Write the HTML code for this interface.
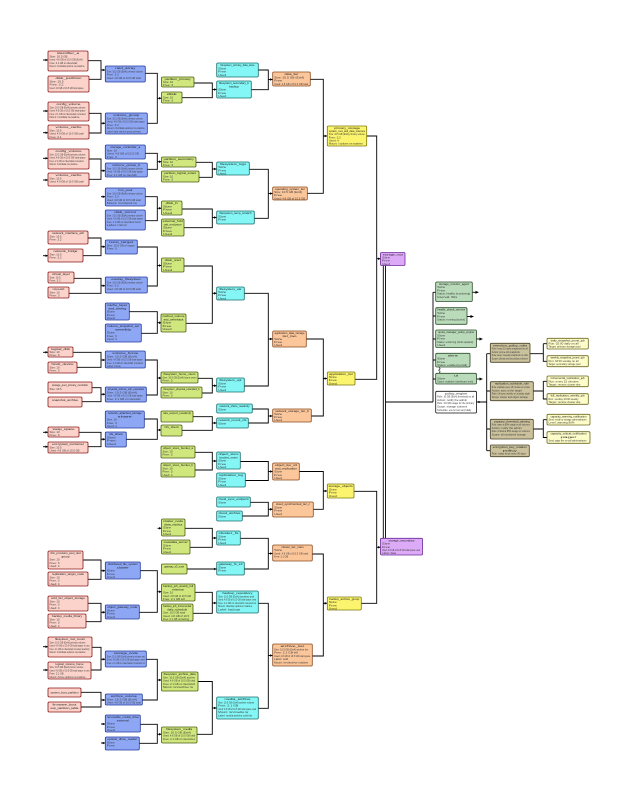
<!DOCTYPE html>
<html><head><meta charset="utf-8">
<style>
html,body{margin:0;padding:0;background:#fff}
svg{display:block}
rect{stroke-width:.8px;rx:1.2px}
.pk{fill:#fcd3ca;stroke:#8b1a1a}
.bl{fill:#8ea7f5;stroke:#22399c}
.gr{fill:#cfe77c;stroke:#4d5d12}
.cy{fill:#84f6f6;stroke:#17706f}
.or{fill:#fcc69b;stroke:#8a4b1e}
.ye{fill:#fbf46c;stroke:#7d7a10}
.pu{fill:#ddaaf8;stroke:#6b2a9a}
.rg{fill:#b9dbb9;stroke:#2c4f2c}
.tn{fill:#cbc29d;stroke:#4a4226}
.ly{fill:#fefdca;stroke:#6b6a20}
.wh{fill:#fff;stroke:#111}
.t{font-family:"Liberation Sans",sans-serif;font-size:2.8px;fill:#1a1a1a;text-anchor:middle}
.d{font-family:"Liberation Sans",sans-serif;font-size:2.3px;fill:#3a3a3a}
.c{fill:none;stroke:#000;stroke-width:.9}
</style></head><body>
<svg width="639" height="802" viewBox="0 0 639 802" xmlns="http://www.w3.org/2000/svg">
<defs>
<marker id="a" markerUnits="userSpaceOnUse" markerWidth="3" markerHeight="3" refX="2.6" refY="1.3" orient="auto"><path d="M0,0L2.6,1.3L0,2.6z" fill="#000"/></marker>
<marker id="b" markerUnits="userSpaceOnUse" markerWidth="4" markerHeight="4" refX="3.2" refY="1.7" orient="auto"><path d="M0,0L3.2,1.7L0,3.4z" fill="#000"/></marker>
</defs>
<rect x="0" y="0" width="639" height="802" style="fill:#fff;stroke:none"/>

<path class="c" d="M88 60.7H101V79.3H89M89 113.3H101V133H89M89 159H101V179.3H89M88 238H101V255.7H83M74 278.3H101V293.3H69M73 352.3H101V367.3H77M92 387.7H101V401.7H82M79 432.3H101V446.7H88M83 560H101V579.3H88M88 603.3H101V621.7H86M92 647.3H101V670H91M81 692.3H101V707H81"/>
<path class="c" d="M145 73.3H157.3V123.3H147M145 153.3H157.3V169.3H147M145 196.7H157.3V220.7H145M137 247H157.3V286H147M129 311.7H157.3V333.3H141M145 360H157.3V395H146M144 419H157.3V439.3H126M140 570.7H157.3V612.3H139M146 659.3H157.3V700H142M140 724.3H157.3V743.3H139"/>
<path class="c" d="M194 83H212.3V97.7H182M196 162.3H212.3V177.3H199M182 209H212.3V227.7H184M184 266H212.3V323.3H186M198 378.3H212.3V393H202M193 416.7H212.3V430.3H182M195 452.3H212.3V470H195M185 528.3H212.3V547.3H190M195 592.3H212.3V613.3H193M198 681.5H212.3V734.3H197"/>
<path class="c" d="M258.3 70H268.3V89.7H251.3M249.3 169.3H268.3V218.3H254.3M244.3 293.3H268.3V386H244.3M252.3 409H268.3V423H248.3M240.3 461.5H268.3V480.5H245.3M250.3 502.3H268.3V516H242.3M240.3 538.3H268.3V569H244.3M258.3 603.3H268.3V708.3H258.3"/>
<path class="c" d="M310.3 79.3H323.3V193.3H307.3M306.3 339H323.3V416H311.3M299.3 471.5H323.3V509.3H313.3M312.3 554H323.3V656H312.3"/>
<path class="c" d="M366.7 136H376.7V379.3H355M354 491.3H376.7V603.3H361.3"/>
<path class="c" d="M383.3 265.5V538.3M385.5 265.5V538.3M385.5 402H433M433 292.3V402M433 292.3H435.7M433 316H435.7M433 339H435.7M433 360H435.7M433 379H435.7"/>
<path class="c" d="M476.5 402H486.7M486.7 353.7V450.7M486.7 353.7H490.3M486.7 391H490.3M486.7 429H490.3M486.7 450.7H490.3"/>
<path class="c" d="M530 353.7H543.3M543.3 343.7V361.3H547M543.3 343.7H547M533.3 391H543.3M543.3 381.3V399H547M543.3 381.3H547M533.3 429H543.3M543.3 419.7V437.5H547M543.3 419.7H547"/>
<path class="c" style="stroke-width:.6" d="M439 367.3l1.2 1.5l-1.5 1.5l1.5 1.5l-1 1.5"/>

<g stroke="#000" stroke-width=".9">
<line x1="101" y1="70" x2="105.3" y2="70" marker-end="url(#a)"/>
<line x1="101" y1="123.3" x2="105.3" y2="123.3" marker-end="url(#a)"/>
<line x1="101" y1="170.7" x2="105.3" y2="170.7" marker-end="url(#a)"/>
<line x1="101" y1="246.7" x2="105.3" y2="246.7" marker-end="url(#a)"/>
<line x1="101" y1="285.7" x2="105.3" y2="285.7" marker-end="url(#a)"/>
<line x1="101" y1="360" x2="105.3" y2="360" marker-end="url(#a)"/>
<line x1="101" y1="394.3" x2="105.3" y2="394.3" marker-end="url(#a)"/>
<line x1="101" y1="439.3" x2="105.3" y2="439.3" marker-end="url(#a)"/>
<line x1="101" y1="570.7" x2="105.3" y2="570.7" marker-end="url(#a)"/>
<line x1="101" y1="612.3" x2="105.3" y2="612.3" marker-end="url(#a)"/>
<line x1="101" y1="659.3" x2="105.3" y2="659.3" marker-end="url(#a)"/>
<line x1="101" y1="700" x2="105.3" y2="700" marker-end="url(#a)"/>

<line x1="157.3" y1="98.3" x2="161.5" y2="98.3" marker-end="url(#a)"/>
<line x1="157.3" y1="161.7" x2="161.5" y2="161.7" marker-end="url(#a)"/>
<line x1="157.3" y1="208.3" x2="161.5" y2="208.3" marker-end="url(#a)"/>
<line x1="157.3" y1="265.5" x2="161.5" y2="265.5" marker-end="url(#a)"/>
<line x1="157.3" y1="322.7" x2="161.5" y2="322.7" marker-end="url(#a)"/>
<line x1="157.3" y1="378" x2="161.5" y2="378" marker-end="url(#a)"/>
<line x1="157.3" y1="430" x2="161.5" y2="430" marker-end="url(#a)"/>
<line x1="157.3" y1="591.7" x2="161.5" y2="591.7" marker-end="url(#a)"/>
<line x1="157.3" y1="680" x2="161.5" y2="680" marker-end="url(#a)"/>
<line x1="157.3" y1="734.3" x2="161.5" y2="734.3" marker-end="url(#a)"/>

<line x1="212.3" y1="89.5" x2="216.7" y2="89.5" marker-end="url(#a)"/>
<line x1="212.3" y1="169" x2="216.7" y2="169" marker-end="url(#a)"/>
<line x1="212.3" y1="217.5" x2="216.7" y2="217.5" marker-end="url(#a)"/>
<line x1="212.3" y1="293.3" x2="216.7" y2="293.3" marker-end="url(#a)"/>
<line x1="212.3" y1="385.7" x2="216.7" y2="385.7" marker-end="url(#a)"/>
<line x1="212.3" y1="423" x2="216.7" y2="423" marker-end="url(#a)"/>
<line x1="212.3" y1="461" x2="216.7" y2="461" marker-end="url(#a)"/>
<line x1="212.3" y1="538" x2="216.7" y2="538" marker-end="url(#a)"/>
<line x1="187" y1="569" x2="216.7" y2="569" marker-end="url(#a)"/>
<line x1="212.3" y1="603" x2="216.7" y2="603" marker-end="url(#a)"/>
<line x1="212.3" y1="708" x2="216.7" y2="708" marker-end="url(#a)"/>

<line x1="268.3" y1="79.5" x2="272.7" y2="79.5" marker-end="url(#a)"/>
<line x1="268.3" y1="193.5" x2="272.7" y2="193.5" marker-end="url(#a)"/>
<line x1="268.3" y1="339" x2="272.7" y2="339" marker-end="url(#a)"/>
<line x1="268.3" y1="416" x2="272.7" y2="416" marker-end="url(#a)"/>
<line x1="268.3" y1="471.5" x2="272.7" y2="471.5" marker-end="url(#a)"/>
<line x1="268.3" y1="509.3" x2="272.7" y2="509.3" marker-end="url(#a)"/>
<line x1="268.3" y1="553.5" x2="272.7" y2="553.5" marker-end="url(#a)"/>
<line x1="268.3" y1="655.5" x2="272.7" y2="655.5" marker-end="url(#a)"/>

<line x1="323.3" y1="136" x2="327.3" y2="136" marker-end="url(#a)"/>
<line x1="323.3" y1="378.5" x2="327.3" y2="378.5" marker-end="url(#a)"/>
<line x1="323.3" y1="491" x2="327.3" y2="491" marker-end="url(#a)"/>
<line x1="323.3" y1="603.3" x2="327.3" y2="603.3" marker-end="url(#a)"/>

<line x1="376.7" y1="258.7" x2="380.5" y2="258.7" marker-end="url(#a)"/>
<line x1="376.7" y1="547.3" x2="380.5" y2="547.3" marker-end="url(#a)"/>

<line x1="43" y1="60" x2="48" y2="60" marker-end="url(#a)"/>
<line x1="43" y1="111" x2="48" y2="111" marker-end="url(#a)"/>
<line x1="43" y1="132.7" x2="48" y2="132.7" marker-end="url(#a)"/>
<line x1="43" y1="158.3" x2="48" y2="158.3" marker-end="url(#a)"/>
<line x1="43" y1="180" x2="48" y2="180" marker-end="url(#a)"/>
<line x1="43" y1="255.7" x2="48" y2="255.7" marker-end="url(#a)"/>
<line x1="43" y1="352.3" x2="48" y2="352.3" marker-end="url(#a)"/>
<line x1="43" y1="432.3" x2="48" y2="432.3" marker-end="url(#a)"/>
<line x1="43" y1="446.7" x2="48" y2="446.7" marker-end="url(#a)"/>
<line x1="43" y1="646.7" x2="48" y2="646.7" marker-end="url(#a)"/>
<line x1="43" y1="670" x2="48" y2="670" marker-end="url(#a)"/>
<line x1="101" y1="196.7" x2="105.3" y2="196.7" marker-end="url(#a)"/>
<line x1="101" y1="724" x2="105.3" y2="724" marker-end="url(#a)"/>
<line x1="101" y1="743" x2="105.3" y2="743" marker-end="url(#a)"/>
<line x1="157.5" y1="528.3" x2="161.5" y2="528.3" marker-end="url(#a)"/>

<line x1="472.3" y1="292.3" x2="478.5" y2="292.3" marker-end="url(#b)"/>
<line x1="467" y1="316.5" x2="473.5" y2="316.5" marker-end="url(#b)"/>
<line x1="476.5" y1="339" x2="482.5" y2="339" marker-end="url(#b)"/>
<line x1="476.5" y1="379" x2="482.5" y2="379" marker-end="url(#b)"/>
<line x1="477" y1="402" x2="481" y2="402" marker-end="url(#a)"/>
</g>

<!-- PINK -->
<rect class="pk" x="48" y="51" width="40" height="20"/>
<text class="t" x="68" y="54" textLength="22" lengthAdjust="spacingAndGlyphs">identifier_a</text>
<text class="d" x="49.5" y="57.3" textLength="18" lengthAdjust="spacingAndGlyphs">Size: 10.5 GB</text>
<text class="d" x="49.5" y="60.6" textLength="33" lengthAdjust="spacingAndGlyphs">Used: 4.8 GB of 10.5 GB (Ext4)</text>
<text class="d" x="49.5" y="63.9" textLength="28" lengthAdjust="spacingAndGlyphs">Free: 2.1 GB on /dev/sda1</text>
<text class="d" x="49.5" y="67.2" textLength="35" lengthAdjust="spacingAndGlyphs">Mount: /mnt/data options rw,noatime</text>

<rect class="pk" x="48" y="76" width="41" height="16"/>
<text class="t" x="68.5" y="79" textLength="26" lengthAdjust="spacingAndGlyphs">disk_partition</text>
<text class="d" x="49.5" y="82.3" textLength="14" lengthAdjust="spacingAndGlyphs">Size: 10.5</text>
<text class="d" x="49.5" y="85.6" textLength="14" lengthAdjust="spacingAndGlyphs">Free: 3.2</text>
<text class="d" x="49.5" y="88.9" textLength="34" lengthAdjust="spacingAndGlyphs">Used: 4.8 GB of 10.5 GB total space</text>

<rect class="pk" x="48" y="102" width="41" height="19"/>
<text class="t" x="68.5" y="105" textLength="24" lengthAdjust="spacingAndGlyphs">config_volume</text>
<text class="d" x="49.5" y="108.3" textLength="36" lengthAdjust="spacingAndGlyphs">Size: 10.5 GB (Ext4) primary volume</text>
<text class="d" x="49.5" y="111.6" textLength="36" lengthAdjust="spacingAndGlyphs">Used: 4.8 GB of 10.5 GB total space</text>
<text class="d" x="49.5" y="114.9" textLength="36" lengthAdjust="spacingAndGlyphs">Free: 2.1 GB on /dev/sda1 mounted</text>
<text class="d" x="49.5" y="118.2" textLength="30" lengthAdjust="spacingAndGlyphs">Mount: /mnt/data rw,noatime</text>

<rect class="pk" x="48" y="125" width="41" height="14"/>
<text class="t" x="68.5" y="128" textLength="26" lengthAdjust="spacingAndGlyphs">volume_cache</text>
<text class="d" x="49.5" y="131.3" textLength="12" lengthAdjust="spacingAndGlyphs">Size: 10.5</text>
<text class="d" x="49.5" y="134.6" textLength="34" lengthAdjust="spacingAndGlyphs">Used: 4.8 GB of 10.5 GB total</text>
<text class="d" x="49.5" y="137.9" textLength="12" lengthAdjust="spacingAndGlyphs">Free: 2.1</text>

<rect class="pk" x="48" y="149" width="41" height="20"/>
<text class="t" x="68.5" y="152" textLength="26" lengthAdjust="spacingAndGlyphs">config_volume</text>
<text class="d" x="49.5" y="155.3" textLength="36" lengthAdjust="spacingAndGlyphs">Size: 10.5 GB (Ext4) primary volume</text>
<text class="d" x="49.5" y="158.6" textLength="36" lengthAdjust="spacingAndGlyphs">Used: 4.8 GB of 10.5 GB total space</text>
<text class="d" x="49.5" y="161.9" textLength="34" lengthAdjust="spacingAndGlyphs">Free: 2.1 GB on /dev/sda1 mounted</text>
<text class="d" x="49.5" y="165.2" textLength="28" lengthAdjust="spacingAndGlyphs">Mount: /mnt/data rw,noatime</text>

<rect class="pk" x="48" y="173" width="41" height="13"/>
<text class="t" x="68.5" y="176" textLength="26" lengthAdjust="spacingAndGlyphs">volume_cache</text>
<text class="d" x="49.5" y="179.3" textLength="12" lengthAdjust="spacingAndGlyphs">Size: 10.5</text>
<text class="d" x="49.5" y="182.6" textLength="34" lengthAdjust="spacingAndGlyphs">Used: 4.8 GB of 10.5 GB total</text>

<rect class="pk" x="48" y="231" width="40" height="13"/>
<text class="t" x="68" y="234" textLength="32" lengthAdjust="spacingAndGlyphs">network_interface_eth</text>
<text class="d" x="49.5" y="237.3" textLength="12" lengthAdjust="spacingAndGlyphs">Size: 10.5</text>
<text class="d" x="49.5" y="240.6" textLength="12" lengthAdjust="spacingAndGlyphs">Free: 3.2</text>

<rect class="pk" x="48" y="249" width="35" height="13"/>
<text class="t" x="65.5" y="252" textLength="24" lengthAdjust="spacingAndGlyphs">network_bridge</text>
<text class="d" x="49.5" y="255.3" textLength="12" lengthAdjust="spacingAndGlyphs">Size: 10.5</text>
<text class="d" x="49.5" y="258.6" textLength="12" lengthAdjust="spacingAndGlyphs">Free: 3.2</text>

<rect class="pk" x="48" y="272" width="26" height="11"/>
<text class="t" x="61" y="275" textLength="18" lengthAdjust="spacingAndGlyphs">virtual_layer</text>
<text class="d" x="49.5" y="278.3" textLength="11" lengthAdjust="spacingAndGlyphs">Size: 10.5</text>
<text class="d" x="49.5" y="281.6" textLength="11" lengthAdjust="spacingAndGlyphs">Free: 3.2</text>

<rect class="pk" x="48" y="287" width="21" height="11"/>
<text class="t" x="58.5" y="290" textLength="12" lengthAdjust="spacingAndGlyphs">mount</text>
<text class="d" x="49.5" y="293.3" textLength="10" lengthAdjust="spacingAndGlyphs">Size: 10</text>
<text class="d" x="49.5" y="296.6" textLength="10" lengthAdjust="spacingAndGlyphs">Free: 3</text>

<rect class="pk" x="48" y="347" width="25" height="10"/>
<text class="t" x="60.5" y="350" textLength="19" lengthAdjust="spacingAndGlyphs">logical_disk</text>
<text class="d" x="49.5" y="353.2" textLength="10" lengthAdjust="spacingAndGlyphs">Size: 10</text>
<text class="d" x="49.5" y="356.2" textLength="10" lengthAdjust="spacingAndGlyphs">Free: 3</text>

<rect class="pk" x="48" y="362" width="29" height="11"/>
<text class="t" x="62.5" y="365" textLength="22" lengthAdjust="spacingAndGlyphs">block_device</text>
<text class="d" x="49.5" y="368.3" textLength="10" lengthAdjust="spacingAndGlyphs">Size: 10</text>
<text class="d" x="49.5" y="371.4" textLength="10" lengthAdjust="spacingAndGlyphs">Free: 3</text>

<rect class="pk" x="48" y="382" width="44" height="11"/>
<text class="t" x="70" y="386" textLength="36" lengthAdjust="spacingAndGlyphs">storage_pool_primary_controller</text>
<text class="d" x="49.5" y="390" textLength="12" lengthAdjust="spacingAndGlyphs">Size: 10.5</text>

<rect class="pk" x="48" y="397" width="34" height="10"/>
<text class="t" x="65" y="401" textLength="26" lengthAdjust="spacingAndGlyphs">snapshot_archive</text>

<rect class="pk" x="48" y="427" width="31" height="10"/>
<text class="t" x="63.5" y="430" textLength="22" lengthAdjust="spacingAndGlyphs">swap_space</text>
<text class="d" x="49.5" y="433.2" textLength="10" lengthAdjust="spacingAndGlyphs">Size: 10</text>
<text class="d" x="49.5" y="436.2" textLength="10" lengthAdjust="spacingAndGlyphs">Free: 3</text>

<rect class="pk" x="48" y="442" width="40" height="11"/>
<text class="t" x="68" y="445" textLength="32" lengthAdjust="spacingAndGlyphs">encrypted_container</text>
<text class="d" x="49.5" y="448.3" textLength="12" lengthAdjust="spacingAndGlyphs">Size: 10.5</text>
<text class="d" x="49.5" y="451.4" textLength="30" lengthAdjust="spacingAndGlyphs">Used: 4.8 GB of 10.5 GB</text>

<rect class="pk" x="48" y="551" width="35" height="18"/>
<text class="t" x="65.5" y="554" textLength="30" lengthAdjust="spacingAndGlyphs">thin_provision_pool_raid</text>
<text class="t" x="65.5" y="557.3" textLength="8" lengthAdjust="spacingAndGlyphs">group</text>
<text class="d" x="49.5" y="560.6" textLength="10" lengthAdjust="spacingAndGlyphs">Size: 10</text>
<text class="d" x="49.5" y="563.9" textLength="10" lengthAdjust="spacingAndGlyphs">Free: 3</text>
<text class="d" x="49.5" y="567.2" textLength="10" lengthAdjust="spacingAndGlyphs">Used: 4</text>

<rect class="pk" x="48" y="572" width="40" height="14"/>
<text class="t" x="68" y="575" textLength="32" lengthAdjust="spacingAndGlyphs">replication_target_node</text>
<text class="d" x="49.5" y="578.3" textLength="10" lengthAdjust="spacingAndGlyphs">Size: 10</text>
<text class="d" x="49.5" y="581.6" textLength="10" lengthAdjust="spacingAndGlyphs">Free: 3</text>
<text class="d" x="49.5" y="584.9" textLength="10" lengthAdjust="spacingAndGlyphs">Used: 4</text>

<rect class="pk" x="48" y="596" width="40" height="15"/>
<text class="t" x="68" y="599" textLength="34" lengthAdjust="spacingAndGlyphs">cold_tier_object_storage</text>
<text class="d" x="49.5" y="602.3" textLength="10" lengthAdjust="spacingAndGlyphs">Size: 10</text>
<text class="d" x="49.5" y="605.6" textLength="10" lengthAdjust="spacingAndGlyphs">Free: 3</text>
<text class="d" x="49.5" y="608.9" textLength="10" lengthAdjust="spacingAndGlyphs">Used: 4</text>

<rect class="pk" x="48" y="614" width="38" height="14"/>
<text class="t" x="67" y="617" textLength="30" lengthAdjust="spacingAndGlyphs">backup_media_library</text>
<text class="d" x="49.5" y="620.3" textLength="10" lengthAdjust="spacingAndGlyphs">Size: 10</text>
<text class="d" x="49.5" y="623.6" textLength="10" lengthAdjust="spacingAndGlyphs">Free: 3</text>
<text class="d" x="49.5" y="626.9" textLength="10" lengthAdjust="spacingAndGlyphs">Used: 4</text>

<rect class="pk" x="48" y="637" width="44" height="20"/>
<text class="t" x="70" y="640" textLength="30" lengthAdjust="spacingAndGlyphs">filesystem_root_mount</text>
<text class="d" x="49.5" y="643.3" textLength="36" lengthAdjust="spacingAndGlyphs">Size: 10.5 GB (Ext4) primary volume</text>
<text class="d" x="49.5" y="646.6" textLength="40" lengthAdjust="spacingAndGlyphs">Used: 4.8 GB of 10.5 GB total space in use</text>
<text class="d" x="49.5" y="649.9" textLength="40" lengthAdjust="spacingAndGlyphs">Free: 2.1 GB on /dev/sda1 mounted readonly</text>
<text class="d" x="49.5" y="653.2" textLength="36" lengthAdjust="spacingAndGlyphs">Mount: /mnt/data options rw,noatime</text>

<rect class="pk" x="48" y="662" width="43" height="17"/>
<text class="t" x="69.5" y="665" textLength="28" lengthAdjust="spacingAndGlyphs">logical_volume_home</text>
<text class="d" x="49.5" y="668.2" textLength="34" lengthAdjust="spacingAndGlyphs">Size: 10.5 GB (Ext4) home volume</text>
<text class="d" x="49.5" y="671.4" textLength="40" lengthAdjust="spacingAndGlyphs">Used: 4.8 GB of 10.5 GB total space in use</text>
<text class="d" x="49.5" y="674.6" textLength="14" lengthAdjust="spacingAndGlyphs">Free: 2.1 GB</text>
<text class="d" x="49.5" y="677.8" textLength="36" lengthAdjust="spacingAndGlyphs">Mount: /home options rw,noatime</text>

<rect class="pk" x="48" y="688" width="33" height="9"/>
<text class="t" x="64.5" y="693.6" textLength="28" lengthAdjust="spacingAndGlyphs">system_boot_partition</text>

<rect class="pk" x="48" y="702" width="33" height="10"/>
<text class="t" x="64.5" y="705.5" textLength="24" lengthAdjust="spacingAndGlyphs">firmware_boot</text>
<text class="t" x="64.5" y="709" textLength="28" lengthAdjust="spacingAndGlyphs">esp_partition_table</text>

<!-- BLUE -->
<rect class="bl" x="105.3" y="66" width="40" height="16"/>
<text class="t" x="125.3" y="69" textLength="20" lengthAdjust="spacingAndGlyphs">raid_array</text>
<text class="d" x="106.8" y="72.3" textLength="36" lengthAdjust="spacingAndGlyphs">Size: 10.5 GB (Ext4) primary volume</text>
<text class="d" x="106.8" y="75.6" textLength="12" lengthAdjust="spacingAndGlyphs">Free: 3.2</text>
<text class="d" x="106.8" y="78.9" textLength="34" lengthAdjust="spacingAndGlyphs">Used: 4.8 GB of 10.5 GB total</text>

<rect class="bl" x="105.3" y="113" width="42" height="21"/>
<text class="t" x="126.3" y="116" textLength="26" lengthAdjust="spacingAndGlyphs">volume_group</text>
<text class="d" x="106.8" y="119.3" textLength="36" lengthAdjust="spacingAndGlyphs">Size: 10.5 GB (Ext4) primary volume</text>
<text class="d" x="106.8" y="122.6" textLength="38" lengthAdjust="spacingAndGlyphs">Used: 4.8 GB of 10.5 GB total space</text>
<text class="d" x="106.8" y="125.9" textLength="12" lengthAdjust="spacingAndGlyphs">Free: 3.2</text>
<text class="d" x="106.8" y="129.2" textLength="38" lengthAdjust="spacingAndGlyphs">Mount: /mnt/data options rw,noatime</text>
<text class="d" x="106.8" y="132.5" textLength="34" lengthAdjust="spacingAndGlyphs">Label: data volume group primary</text>

<rect class="bl" x="105.3" y="145" width="40" height="14"/>
<text class="t" x="125.3" y="148" textLength="30" lengthAdjust="spacingAndGlyphs">storage_controller_a</text>
<text class="d" x="106.8" y="151.3" textLength="10" lengthAdjust="spacingAndGlyphs">Size: 10</text>
<text class="d" x="106.8" y="154.6" textLength="32" lengthAdjust="spacingAndGlyphs">Used: 4.8 GB of 10.5 GB</text>
<text class="d" x="106.8" y="157.9" textLength="10" lengthAdjust="spacingAndGlyphs">Free: 3</text>

<rect class="bl" x="105.3" y="163" width="42" height="14"/>
<text class="t" x="126.3" y="166" textLength="28" lengthAdjust="spacingAndGlyphs">volume_group_b</text>
<text class="d" x="106.8" y="169.3" textLength="36" lengthAdjust="spacingAndGlyphs">Size: 10.5 GB (Ext4) primary volume</text>
<text class="d" x="106.8" y="172.6" textLength="36" lengthAdjust="spacingAndGlyphs">Used: 4.8 GB of 10.5 GB total space</text>
<text class="d" x="106.8" y="175.9" textLength="30" lengthAdjust="spacingAndGlyphs">Free: 2.1 GB on /dev/sdb</text>

<rect class="bl" x="105.3" y="188" width="40" height="18"/>
<text class="t" x="125.3" y="191" textLength="14" lengthAdjust="spacingAndGlyphs">lvm_pool</text>
<text class="d" x="106.8" y="194.3" textLength="36" lengthAdjust="spacingAndGlyphs">Size: 10.5 GB (Ext4) primary volume</text>
<text class="d" x="106.8" y="197.6" textLength="12" lengthAdjust="spacingAndGlyphs">Free: 3.2</text>
<text class="d" x="106.8" y="200.9" textLength="34" lengthAdjust="spacingAndGlyphs">Used: 4.8 GB of 10.5 GB total</text>
<text class="d" x="106.8" y="204.2" textLength="30" lengthAdjust="spacingAndGlyphs">Mount: /mnt/pool rw</text>

<rect class="bl" x="105.3" y="210" width="40" height="20"/>
<text class="t" x="125.3" y="213" textLength="22" lengthAdjust="spacingAndGlyphs">disk_mirror</text>
<text class="d" x="106.8" y="216.3" textLength="36" lengthAdjust="spacingAndGlyphs">Size: 10.5 GB (Ext4) primary volume</text>
<text class="d" x="106.8" y="219.6" textLength="36" lengthAdjust="spacingAndGlyphs">Used: 4.8 GB of 10.5 GB total space</text>
<text class="d" x="106.8" y="222.9" textLength="34" lengthAdjust="spacingAndGlyphs">Free: 2.1 GB on /dev/sda1 mount</text>
<text class="d" x="106.8" y="226.2" textLength="20" lengthAdjust="spacingAndGlyphs">Label: mirror</text>

<rect class="bl" x="105.3" y="240" width="32" height="14"/>
<text class="t" x="121.3" y="243" textLength="24" lengthAdjust="spacingAndGlyphs">iscsi_target</text>
<text class="d" x="106.8" y="246.3" textLength="28" lengthAdjust="spacingAndGlyphs">Size: 10.5 GB of space</text>
<text class="d" x="106.8" y="249.6" textLength="10" lengthAdjust="spacingAndGlyphs">Free: 3</text>

<rect class="bl" x="105.3" y="277" width="42" height="16"/>
<text class="t" x="126.3" y="280" textLength="30" lengthAdjust="spacingAndGlyphs">overlay_filesystem</text>
<text class="d" x="106.8" y="283.3" textLength="36" lengthAdjust="spacingAndGlyphs">Size: 10.5 GB (Ext4) primary volume</text>
<text class="d" x="106.8" y="286.6" textLength="12" lengthAdjust="spacingAndGlyphs">Free: 3.2</text>
<text class="d" x="106.8" y="289.9" textLength="34" lengthAdjust="spacingAndGlyphs">Used: 4.8 GB of 10.5 GB total</text>

<rect class="bl" x="105.3" y="303" width="24" height="17"/>
<text class="t" x="117.3" y="306" textLength="20" lengthAdjust="spacingAndGlyphs">cache_layer</text>
<text class="t" x="117.3" y="309.3" textLength="18" lengthAdjust="spacingAndGlyphs">ssd_tiering</text>
<text class="d" x="106.8" y="312.6" textLength="8" lengthAdjust="spacingAndGlyphs">Size</text>
<text class="d" x="106.8" y="315.9" textLength="8" lengthAdjust="spacingAndGlyphs">Free</text>
<text class="d" x="106.8" y="319.2" textLength="8" lengthAdjust="spacingAndGlyphs">Used</text>

<rect class="bl" x="105.3" y="324" width="36" height="18"/>
<text class="t" x="123.3" y="327" textLength="32" lengthAdjust="spacingAndGlyphs">volume_snapshot_set</text>
<text class="t" x="123.3" y="330.3" textLength="16" lengthAdjust="spacingAndGlyphs">weekly</text>
<text class="d" x="106.8" y="333.6" textLength="8" lengthAdjust="spacingAndGlyphs">Size</text>
<text class="d" x="106.8" y="336.9" textLength="10" lengthAdjust="spacingAndGlyphs">Free: 3</text>
<text class="d" x="106.8" y="340.2" textLength="10" lengthAdjust="spacingAndGlyphs">Used: 4</text>

<rect class="bl" x="105.3" y="351" width="40" height="17"/>
<text class="t" x="125.3" y="354" textLength="26" lengthAdjust="spacingAndGlyphs">volume_home</text>
<text class="d" x="106.8" y="357.3" textLength="30" lengthAdjust="spacingAndGlyphs">Size: 10.5 GB (Ext4)</text>
<text class="d" x="106.8" y="360.6" textLength="36" lengthAdjust="spacingAndGlyphs">Used: 4.8 GB of 10.5 GB total space</text>
<text class="d" x="106.8" y="363.9" textLength="36" lengthAdjust="spacingAndGlyphs">Free: 2.1 GB on /dev/sda1 mounted</text>
<text class="d" x="106.8" y="367.2" textLength="14" lengthAdjust="spacingAndGlyphs">Label: home</text>

<rect class="bl" x="105.3" y="387" width="41" height="15"/>
<text class="t" x="125.8" y="390" textLength="36" lengthAdjust="spacingAndGlyphs">physical_volume_sdc_extended</text>
<text class="d" x="106.8" y="393.3" textLength="30" lengthAdjust="spacingAndGlyphs">Size: 10.5 GB (Ext4)</text>
<text class="d" x="106.8" y="396.6" textLength="36" lengthAdjust="spacingAndGlyphs">Used: 4.8 GB of 10.5 GB total space</text>
<text class="d" x="106.8" y="399.9" textLength="34" lengthAdjust="spacingAndGlyphs">Free: 2.1 GB on /dev/sdc</text>

<rect class="bl" x="105.3" y="411" width="39" height="17"/>
<text class="t" x="124.8" y="414" textLength="34" lengthAdjust="spacingAndGlyphs">network_attached_storage</text>
<text class="t" x="124.8" y="417.3" textLength="14" lengthAdjust="spacingAndGlyphs">share</text>
<text class="d" x="106.8" y="420.6" textLength="10" lengthAdjust="spacingAndGlyphs">Size: 10</text>
<text class="d" x="106.8" y="423.9" textLength="10" lengthAdjust="spacingAndGlyphs">Free: 3</text>
<text class="d" x="106.8" y="427.2" textLength="10" lengthAdjust="spacingAndGlyphs">Used: 4</text>

<rect class="bl" x="105.3" y="432" width="21" height="15"/>
<text class="t" x="115.8" y="435" textLength="14" lengthAdjust="spacingAndGlyphs">nfs_share</text>
<text class="d" x="106.8" y="438.3" textLength="9" lengthAdjust="spacingAndGlyphs">Size</text>
<text class="d" x="106.8" y="441.6" textLength="9" lengthAdjust="spacingAndGlyphs">Free</text>
<text class="d" x="106.8" y="444.9" textLength="9" lengthAdjust="spacingAndGlyphs">Used</text>

<rect class="bl" x="105.3" y="562" width="35" height="17"/>
<text class="t" x="122.8" y="565" textLength="30" lengthAdjust="spacingAndGlyphs">distributed_file_system</text>
<text class="t" x="122.8" y="568.3" textLength="12" lengthAdjust="spacingAndGlyphs">cluster</text>
<text class="d" x="106.8" y="571.6" textLength="8" lengthAdjust="spacingAndGlyphs">Size</text>
<text class="d" x="106.8" y="574.9" textLength="8" lengthAdjust="spacingAndGlyphs">Free</text>
<text class="d" x="106.8" y="578.2" textLength="8" lengthAdjust="spacingAndGlyphs">Used</text>

<rect class="bl" x="105.3" y="605" width="34" height="14"/>
<text class="t" x="122.3" y="608" textLength="30" lengthAdjust="spacingAndGlyphs">object_gateway_node</text>
<text class="d" x="106.8" y="611.3" textLength="8" lengthAdjust="spacingAndGlyphs">Size</text>
<text class="d" x="106.8" y="614.6" textLength="8" lengthAdjust="spacingAndGlyphs">Free</text>
<text class="d" x="106.8" y="617.9" textLength="8" lengthAdjust="spacingAndGlyphs">Used</text>

<rect class="bl" x="105.3" y="651" width="41" height="16"/>
<text class="t" x="125.8" y="654" textLength="24" lengthAdjust="spacingAndGlyphs">storage_node</text>
<text class="d" x="106.8" y="657.3" textLength="38" lengthAdjust="spacingAndGlyphs">Size: 10.5 GB (Ext4) primary volume set</text>
<text class="d" x="106.8" y="660.6" textLength="38" lengthAdjust="spacingAndGlyphs">Used: 4.8 GB of 10.5 GB total space used</text>
<text class="d" x="106.8" y="663.9" textLength="38" lengthAdjust="spacingAndGlyphs">Free: 2.1 GB on /dev/sda1 mounted rw</text>

<rect class="bl" x="105.3" y="694" width="37" height="11"/>
<text class="t" x="123.8" y="697" textLength="26" lengthAdjust="spacingAndGlyphs">archive_volume</text>
<text class="d" x="106.8" y="700.3" textLength="30" lengthAdjust="spacingAndGlyphs">Size: 10.5 GB (Ext4)</text>
<text class="d" x="106.8" y="703.4" textLength="34" lengthAdjust="spacingAndGlyphs">Used: 4.8 GB of 10.5 GB total</text>

<rect class="bl" x="105.3" y="715" width="35" height="17"/>
<text class="t" x="122.8" y="718" textLength="32" lengthAdjust="spacingAndGlyphs">removable_media_drive</text>
<text class="t" x="122.8" y="721.3" textLength="12" lengthAdjust="spacingAndGlyphs">external</text>
<text class="d" x="106.8" y="724.6" textLength="8" lengthAdjust="spacingAndGlyphs">Size</text>
<text class="d" x="106.8" y="727.9" textLength="8" lengthAdjust="spacingAndGlyphs">Free</text>
<text class="d" x="106.8" y="731.2" textLength="8" lengthAdjust="spacingAndGlyphs">Used</text>

<rect class="bl" x="105.3" y="737" width="34" height="13"/>
<text class="t" x="122.3" y="740" textLength="30" lengthAdjust="spacingAndGlyphs">optical_drive_reader</text>
<text class="d" x="106.8" y="743.3" textLength="8" lengthAdjust="spacingAndGlyphs">Size</text>
<text class="d" x="106.8" y="746.6" textLength="8" lengthAdjust="spacingAndGlyphs">Free</text>

<!-- GREEN -->
<rect class="gr" x="161.5" y="77" width="32.5" height="10"/>
<text class="t" x="177.7" y="80" textLength="26" lengthAdjust="spacingAndGlyphs">partition_primary</text>
<text class="d" x="163" y="83.2" textLength="10" lengthAdjust="spacingAndGlyphs">Size: 10</text>
<text class="d" x="163" y="86.2" textLength="10" lengthAdjust="spacingAndGlyphs">Free: 3</text>

<rect class="gr" x="161.5" y="92" width="20.5" height="11"/>
<text class="t" x="171.7" y="95" textLength="10" lengthAdjust="spacingAndGlyphs">disk</text>
<text class="d" x="163" y="98.3" textLength="10" lengthAdjust="spacingAndGlyphs">Size: 10</text>
<text class="d" x="163" y="101.4" textLength="10" lengthAdjust="spacingAndGlyphs">Free: 3</text>

<rect class="gr" x="161.5" y="157" width="34.5" height="10"/>
<text class="t" x="178.7" y="160" textLength="30" lengthAdjust="spacingAndGlyphs">partition_secondary</text>
<text class="d" x="163" y="163.2" textLength="10" lengthAdjust="spacingAndGlyphs">Size: 10</text>
<text class="d" x="163" y="166.2" textLength="10" lengthAdjust="spacingAndGlyphs">Free: 3</text>

<rect class="gr" x="161.5" y="171" width="37.5" height="11"/>
<text class="t" x="180.2" y="174" textLength="32" lengthAdjust="spacingAndGlyphs">partition_logical_extent</text>
<text class="d" x="163" y="177.3" textLength="10" lengthAdjust="spacingAndGlyphs">Size: 10</text>
<text class="d" x="163" y="180.4" textLength="10" lengthAdjust="spacingAndGlyphs">Free: 3</text>

<rect class="gr" x="161.5" y="201" width="20.5" height="14"/>
<text class="t" x="171.7" y="204" textLength="12" lengthAdjust="spacingAndGlyphs">disk_b</text>
<text class="d" x="163" y="207.3" textLength="9" lengthAdjust="spacingAndGlyphs">Size</text>
<text class="d" x="163" y="210.6" textLength="9" lengthAdjust="spacingAndGlyphs">Free</text>
<text class="d" x="163" y="213.9" textLength="9" lengthAdjust="spacingAndGlyphs">Used</text>

<rect class="gr" x="161.5" y="219" width="22.5" height="17"/>
<text class="t" x="172.7" y="222" textLength="20" lengthAdjust="spacingAndGlyphs">external_hdd</text>
<text class="t" x="172.7" y="225.3" textLength="18" lengthAdjust="spacingAndGlyphs">usb_enclosure</text>
<text class="d" x="163" y="228.6" textLength="9" lengthAdjust="spacingAndGlyphs">Size</text>
<text class="d" x="163" y="231.9" textLength="9" lengthAdjust="spacingAndGlyphs">Free</text>
<text class="d" x="163" y="235.2" textLength="9" lengthAdjust="spacingAndGlyphs">Used</text>

<rect class="gr" x="161.5" y="258" width="22.5" height="14"/>
<text class="t" x="172.7" y="261" textLength="16" lengthAdjust="spacingAndGlyphs">disk_ssd</text>
<text class="d" x="163" y="264.3" textLength="9" lengthAdjust="spacingAndGlyphs">Size</text>
<text class="d" x="163" y="267.6" textLength="9" lengthAdjust="spacingAndGlyphs">Free</text>
<text class="d" x="163" y="270.9" textLength="9" lengthAdjust="spacingAndGlyphs">Used</text>

<rect class="gr" x="161" y="314" width="25" height="18"/>
<text class="t" x="173.5" y="317" textLength="22" lengthAdjust="spacingAndGlyphs">cached_volume</text>
<text class="t" x="173.5" y="320.3" textLength="20" lengthAdjust="spacingAndGlyphs">ssd_writeback</text>
<text class="d" x="162.5" y="323.6" textLength="9" lengthAdjust="spacingAndGlyphs">Size</text>
<text class="d" x="162.5" y="326.9" textLength="9" lengthAdjust="spacingAndGlyphs">Free</text>
<text class="d" x="162.5" y="330.2" textLength="9" lengthAdjust="spacingAndGlyphs">Used</text>

<rect class="gr" x="161" y="372" width="37" height="11"/>
<text class="t" x="179.5" y="375" textLength="32" lengthAdjust="spacingAndGlyphs">filesystem_home_users</text>
<text class="d" x="162.5" y="378.3" textLength="34" lengthAdjust="spacingAndGlyphs">Size: 10.5 GB (Ext4) home users</text>
<text class="d" x="162.5" y="381.4" textLength="10" lengthAdjust="spacingAndGlyphs">Free: 3</text>

<rect class="gr" x="161" y="387" width="41" height="11"/>
<text class="t" x="181.5" y="390" textLength="36" lengthAdjust="spacingAndGlyphs">filesystem_physical_extended_b</text>
<text class="d" x="162.5" y="393.3" textLength="10" lengthAdjust="spacingAndGlyphs">Size: 10</text>
<text class="d" x="162.5" y="396.4" textLength="10" lengthAdjust="spacingAndGlyphs">Free: 3</text>

<rect class="gr" x="161" y="411" width="32" height="11"/>
<text class="t" x="177" y="414" textLength="28" lengthAdjust="spacingAndGlyphs">nas_export_readonly</text>

<rect class="gr" x="161" y="425" width="21" height="11"/>
<text class="t" x="171.5" y="428" textLength="14" lengthAdjust="spacingAndGlyphs">nfs_client</text>

<rect class="gr" x="161" y="446" width="34" height="12"/>
<text class="t" x="178" y="449" textLength="30" lengthAdjust="spacingAndGlyphs">object_store_bucket_a</text>
<text class="d" x="162.5" y="452.3" textLength="10" lengthAdjust="spacingAndGlyphs">Size: 10</text>
<text class="d" x="162.5" y="455.6" textLength="10" lengthAdjust="spacingAndGlyphs">Free: 3</text>

<rect class="gr" x="161" y="463" width="34" height="14"/>
<text class="t" x="178" y="466" textLength="30" lengthAdjust="spacingAndGlyphs">object_store_bucket_b</text>
<text class="d" x="162.5" y="469.3" textLength="10" lengthAdjust="spacingAndGlyphs">Size: 10</text>
<text class="d" x="162.5" y="472.6" textLength="10" lengthAdjust="spacingAndGlyphs">Free: 3</text>
<text class="d" x="162.5" y="475.9" textLength="10" lengthAdjust="spacingAndGlyphs">Used: 4</text>

<rect class="gr" x="161.5" y="519" width="23.5" height="17"/>
<text class="t" x="173.2" y="522" textLength="20" lengthAdjust="spacingAndGlyphs">cluster_node</text>
<text class="t" x="173.2" y="525.3" textLength="18" lengthAdjust="spacingAndGlyphs">data_replica</text>
<text class="d" x="163" y="528.6" textLength="8" lengthAdjust="spacingAndGlyphs">Size</text>
<text class="d" x="163" y="531.9" textLength="8" lengthAdjust="spacingAndGlyphs">Free</text>
<text class="d" x="163" y="535.2" textLength="8" lengthAdjust="spacingAndGlyphs">Used</text>

<rect class="gr" x="161.5" y="540" width="28.5" height="14"/>
<text class="t" x="175.7" y="543" textLength="24" lengthAdjust="spacingAndGlyphs">metadata_server</text>
<text class="d" x="163" y="546.3" textLength="8" lengthAdjust="spacingAndGlyphs">Size</text>
<text class="d" x="163" y="549.6" textLength="8" lengthAdjust="spacingAndGlyphs">Free</text>
<text class="d" x="163" y="552.9" textLength="8" lengthAdjust="spacingAndGlyphs">Used</text>

<rect class="gr" x="161.5" y="564" width="25.5" height="10"/>
<text class="t" x="174.2" y="567.5" textLength="20" lengthAdjust="spacingAndGlyphs">gateway_s3_node</text>

<rect class="gr" x="161.5" y="584" width="33.5" height="17"/>
<text class="t" x="178.2" y="587" textLength="30" lengthAdjust="spacingAndGlyphs">backup_job_weekly_full</text>
<text class="t" x="178.2" y="590.3" textLength="12" lengthAdjust="spacingAndGlyphs">retention</text>
<text class="d" x="163" y="593.6" textLength="10" lengthAdjust="spacingAndGlyphs">Size: 10</text>
<text class="d" x="163" y="596.9" textLength="28" lengthAdjust="spacingAndGlyphs">Used: 4.8 GB of 10.5 GB</text>
<text class="d" x="163" y="600.2" textLength="22" lengthAdjust="spacingAndGlyphs">Free: 2.1 GB left</text>

<rect class="gr" x="161.5" y="604" width="31.5" height="17"/>
<text class="t" x="177.2" y="607" textLength="28" lengthAdjust="spacingAndGlyphs">backup_job_incremental</text>
<text class="t" x="177.2" y="610.3" textLength="20" lengthAdjust="spacingAndGlyphs">daily_schedule</text>
<text class="d" x="163" y="613.6" textLength="22" lengthAdjust="spacingAndGlyphs">Size: 10.5 GB total</text>
<text class="d" x="163" y="616.9" textLength="26" lengthAdjust="spacingAndGlyphs">Used: 4.8 GB of 10.5</text>
<text class="d" x="163" y="620.2" textLength="26" lengthAdjust="spacingAndGlyphs">Free: 2.1 GB remaining</text>

<rect class="gr" x="161.5" y="672" width="36.5" height="19"/>
<text class="t" x="179.7" y="675" textLength="32" lengthAdjust="spacingAndGlyphs">filesystem_archive_data</text>
<text class="d" x="163" y="678.3" textLength="32" lengthAdjust="spacingAndGlyphs">Size: 10.5 GB (Ext4) archive</text>
<text class="d" x="163" y="681.6" textLength="32" lengthAdjust="spacingAndGlyphs">Used: 4.8 GB of 10.5 GB total</text>
<text class="d" x="163" y="684.9" textLength="32" lengthAdjust="spacingAndGlyphs">Free: 2.1 GB on /dev/sdd1</text>
<text class="d" x="163" y="688.2" textLength="30" lengthAdjust="spacingAndGlyphs">Mount: /srv/archive rw</text>

<rect class="gr" x="161.5" y="727" width="35.5" height="16"/>
<text class="t" x="179.2" y="730" textLength="26" lengthAdjust="spacingAndGlyphs">filesystem_media</text>
<text class="d" x="163" y="733.3" textLength="28" lengthAdjust="spacingAndGlyphs">Size: 10.5 GB (Ext4)</text>
<text class="d" x="163" y="736.6" textLength="32" lengthAdjust="spacingAndGlyphs">Used: 4.8 GB of 10.5 GB total</text>
<text class="d" x="163" y="739.9" textLength="32" lengthAdjust="spacingAndGlyphs">Free: 2.1 GB on /dev/sde1</text>

<!-- CYAN -->
<rect class="cy" x="216.7" y="63" width="41.6" height="14"/>
<text class="t" x="237.5" y="66" textLength="34" lengthAdjust="spacingAndGlyphs">filesystem_primary_data_store</text>
<text class="d" x="218.2" y="69.3" textLength="8" lengthAdjust="spacingAndGlyphs">Size</text>
<text class="d" x="218.2" y="72.6" textLength="8" lengthAdjust="spacingAndGlyphs">Free</text>
<text class="d" x="218.2" y="75.9" textLength="8" lengthAdjust="spacingAndGlyphs">Used</text>

<rect class="cy" x="216.7" y="81" width="34.6" height="17"/>
<text class="t" x="234" y="84" textLength="30" lengthAdjust="spacingAndGlyphs">filesystem_secondary_b</text>
<text class="t" x="234" y="87.3" textLength="10" lengthAdjust="spacingAndGlyphs">backup</text>
<text class="d" x="218.2" y="90.6" textLength="8" lengthAdjust="spacingAndGlyphs">Size</text>
<text class="d" x="218.2" y="93.9" textLength="8" lengthAdjust="spacingAndGlyphs">Free</text>
<text class="d" x="218.2" y="97.2" textLength="8" lengthAdjust="spacingAndGlyphs">Used</text>

<rect class="cy" x="216.7" y="162" width="32.6" height="13"/>
<text class="t" x="233" y="165" textLength="26" lengthAdjust="spacingAndGlyphs">filesystem_logs</text>
<text class="d" x="218.2" y="168.2" textLength="8" lengthAdjust="spacingAndGlyphs">Size</text>
<text class="d" x="218.2" y="171.4" textLength="8" lengthAdjust="spacingAndGlyphs">Free</text>
<text class="d" x="218.2" y="174.6" textLength="8" lengthAdjust="spacingAndGlyphs">Used</text>

<rect class="cy" x="216.7" y="211" width="37.6" height="13"/>
<text class="t" x="235.5" y="214" textLength="32" lengthAdjust="spacingAndGlyphs">filesystem_temp_scratch</text>
<text class="d" x="218.2" y="217.3" textLength="8" lengthAdjust="spacingAndGlyphs">Size</text>
<text class="d" x="218.2" y="220.6" textLength="8" lengthAdjust="spacingAndGlyphs">Free</text>

<rect class="cy" x="216.7" y="287" width="27.6" height="13"/>
<text class="t" x="230.5" y="290" textLength="22" lengthAdjust="spacingAndGlyphs">filesystem_var</text>
<text class="d" x="218.2" y="293.1" textLength="8" lengthAdjust="spacingAndGlyphs">Size</text>
<text class="d" x="218.2" y="296.2" textLength="8" lengthAdjust="spacingAndGlyphs">Free</text>
<text class="d" x="218.2" y="299.3" textLength="8" lengthAdjust="spacingAndGlyphs">Used</text>

<rect class="cy" x="216.7" y="378" width="27.6" height="14"/>
<text class="t" x="230.5" y="381" textLength="22" lengthAdjust="spacingAndGlyphs">filesystem_opt</text>
<text class="d" x="218.2" y="384.3" textLength="8" lengthAdjust="spacingAndGlyphs">Size</text>
<text class="d" x="218.2" y="387.6" textLength="8" lengthAdjust="spacingAndGlyphs">Free</text>
<text class="d" x="218.2" y="390.9" textLength="8" lengthAdjust="spacingAndGlyphs">Used</text>

<rect class="cy" x="216.7" y="404" width="35.6" height="9"/>
<text class="t" x="234.5" y="407" textLength="30" lengthAdjust="spacingAndGlyphs">network_share_readonly</text>
<text class="d" x="218.2" y="410.3" textLength="8" lengthAdjust="spacingAndGlyphs">Size</text>

<rect class="cy" x="216.7" y="418" width="31.6" height="10"/>
<text class="t" x="232.5" y="421" textLength="28" lengthAdjust="spacingAndGlyphs">network_mount_nfs</text>
<text class="d" x="218.2" y="424.3" textLength="8" lengthAdjust="spacingAndGlyphs">Size</text>

<rect class="cy" x="216.7" y="452" width="23.6" height="17"/>
<text class="t" x="228.5" y="455" textLength="20" lengthAdjust="spacingAndGlyphs">object_store</text>
<text class="t" x="228.5" y="458.3" textLength="18" lengthAdjust="spacingAndGlyphs">bucket_main</text>
<text class="d" x="218.2" y="461.6" textLength="8" lengthAdjust="spacingAndGlyphs">Size</text>
<text class="d" x="218.2" y="464.9" textLength="8" lengthAdjust="spacingAndGlyphs">Free</text>
<text class="d" x="218.2" y="468.2" textLength="8" lengthAdjust="spacingAndGlyphs">Used</text>

<rect class="cy" x="216.7" y="473" width="28.6" height="14"/>
<text class="t" x="231" y="476" textLength="24" lengthAdjust="spacingAndGlyphs">replication_log</text>
<text class="d" x="218.2" y="479.3" textLength="8" lengthAdjust="spacingAndGlyphs">Size</text>
<text class="d" x="218.2" y="482.6" textLength="8" lengthAdjust="spacingAndGlyphs">Free</text>
<text class="d" x="218.2" y="485.9" textLength="8" lengthAdjust="spacingAndGlyphs">Used</text>

<rect class="cy" x="216.7" y="497" width="33.6" height="10"/>
<text class="t" x="233.5" y="500" textLength="30" lengthAdjust="spacingAndGlyphs">cloud_sync_endpoint</text>
<text class="d" x="218.2" y="503.3" textLength="8" lengthAdjust="spacingAndGlyphs">Size</text>

<rect class="cy" x="216.7" y="511" width="25.6" height="10"/>
<text class="t" x="229.5" y="514" textLength="22" lengthAdjust="spacingAndGlyphs">cloud_archive</text>
<text class="d" x="218.2" y="517.3" textLength="8" lengthAdjust="spacingAndGlyphs">Size</text>

<rect class="cy" x="216.7" y="531" width="23.6" height="14"/>
<text class="t" x="228.5" y="534" textLength="20" lengthAdjust="spacingAndGlyphs">cluster_fs</text>
<text class="d" x="218.2" y="537.3" textLength="8" lengthAdjust="spacingAndGlyphs">Size</text>
<text class="d" x="218.2" y="540.6" textLength="8" lengthAdjust="spacingAndGlyphs">Free</text>
<text class="d" x="218.2" y="543.9" textLength="8" lengthAdjust="spacingAndGlyphs">Used</text>

<rect class="cy" x="216.7" y="562" width="27.6" height="13"/>
<text class="t" x="230.5" y="565" textLength="24" lengthAdjust="spacingAndGlyphs">gateway_fs_s3</text>
<text class="d" x="218.2" y="568.3" textLength="8" lengthAdjust="spacingAndGlyphs">Size</text>
<text class="d" x="218.2" y="571.6" textLength="8" lengthAdjust="spacingAndGlyphs">Free</text>

<rect class="cy" x="216.7" y="591" width="41.6" height="22"/>
<text class="t" x="237.5" y="594" textLength="30" lengthAdjust="spacingAndGlyphs">backup_repository</text>
<text class="d" x="218.2" y="597.3" textLength="36" lengthAdjust="spacingAndGlyphs">Size: 10.5 GB (Ext4) repository pool</text>
<text class="d" x="218.2" y="600.6" textLength="38" lengthAdjust="spacingAndGlyphs">Used: 4.8 GB of 10.5 GB total space used</text>
<text class="d" x="218.2" y="603.9" textLength="38" lengthAdjust="spacingAndGlyphs">Free: 2.1 GB on /dev/sdf1 mounted rw</text>
<text class="d" x="218.2" y="607.2" textLength="34" lengthAdjust="spacingAndGlyphs">Mount: /backup options noatime</text>
<text class="d" x="218.2" y="610.5" textLength="22" lengthAdjust="spacingAndGlyphs">Label: backups</text>

<rect class="cy" x="216.7" y="697" width="41.6" height="22"/>
<text class="t" x="237.5" y="700" textLength="26" lengthAdjust="spacingAndGlyphs">media_archive</text>
<text class="d" x="218.2" y="703.3" textLength="36" lengthAdjust="spacingAndGlyphs">Size: 10.5 GB (Ext4) archive volume</text>
<text class="d" x="218.2" y="706.6" textLength="20" lengthAdjust="spacingAndGlyphs">Free: 2.1 GB</text>
<text class="d" x="218.2" y="709.9" textLength="38" lengthAdjust="spacingAndGlyphs">Used: 4.8 GB of 10.5 GB total space used</text>
<text class="d" x="218.2" y="713.2" textLength="30" lengthAdjust="spacingAndGlyphs">Mount: /srv/media rw</text>
<text class="d" x="218.2" y="716.5" textLength="34" lengthAdjust="spacingAndGlyphs">Label: media archive cold tier</text>

<!-- ORANGE -->
<rect class="or" x="272.7" y="72" width="37.6" height="14"/>
<text class="t" x="291.5" y="75" textLength="14" lengthAdjust="spacingAndGlyphs">data_tier</text>
<text class="d" x="274.2" y="78.3" textLength="30" lengthAdjust="spacingAndGlyphs">Size: 10.5 GB (Ext4)</text>
<text class="d" x="274.2" y="81.6" textLength="8" lengthAdjust="spacingAndGlyphs">Free</text>
<text class="d" x="274.2" y="84.9" textLength="34" lengthAdjust="spacingAndGlyphs">Used: 4.8 GB of 10.5 GB total</text>

<rect class="or" x="272.7" y="187" width="34.6" height="13"/>
<text class="t" x="290" y="190" textLength="30" lengthAdjust="spacingAndGlyphs">operating_system_tier</text>
<text class="d" x="274.2" y="193.1" textLength="28" lengthAdjust="spacingAndGlyphs">Size: 10.5 GB (Ext4)</text>
<text class="d" x="274.2" y="196.2" textLength="8" lengthAdjust="spacingAndGlyphs">Free</text>
<text class="d" x="274.2" y="199.3" textLength="31" lengthAdjust="spacingAndGlyphs">Used: 4.8 GB of 10.5 GB</text>

<rect class="or" x="272.7" y="331" width="33.6" height="16"/>
<text class="t" x="289.5" y="333.8" textLength="30" lengthAdjust="spacingAndGlyphs">application_data_storage</text>
<text class="t" x="289.5" y="336.9" textLength="14" lengthAdjust="spacingAndGlyphs">tier_two</text>
<text class="d" x="274.2" y="340" textLength="8" lengthAdjust="spacingAndGlyphs">Size</text>
<text class="d" x="274.2" y="343.1" textLength="8" lengthAdjust="spacingAndGlyphs">Free</text>
<text class="d" x="274.2" y="346.2" textLength="8" lengthAdjust="spacingAndGlyphs">Used</text>

<rect class="or" x="272.7" y="409" width="38.6" height="13"/>
<text class="t" x="292" y="412" textLength="34" lengthAdjust="spacingAndGlyphs">network_storage_tier_b</text>
<text class="d" x="274.2" y="415" textLength="8" lengthAdjust="spacingAndGlyphs">Size</text>
<text class="d" x="274.2" y="418" textLength="8" lengthAdjust="spacingAndGlyphs">Free</text>
<text class="d" x="274.2" y="421" textLength="8" lengthAdjust="spacingAndGlyphs">Used</text>

<rect class="or" x="272.7" y="463" width="26.6" height="17"/>
<text class="t" x="286" y="466" textLength="22" lengthAdjust="spacingAndGlyphs">object_tier_s3</text>
<text class="t" x="286" y="469.3" textLength="22" lengthAdjust="spacingAndGlyphs">and_replication</text>
<text class="d" x="274.2" y="472.6" textLength="8" lengthAdjust="spacingAndGlyphs">Size</text>
<text class="d" x="274.2" y="475.9" textLength="8" lengthAdjust="spacingAndGlyphs">Free</text>
<text class="d" x="274.2" y="479.2" textLength="8" lengthAdjust="spacingAndGlyphs">Used</text>

<rect class="or" x="272.7" y="502" width="40.6" height="15"/>
<text class="t" x="293" y="505" textLength="34" lengthAdjust="spacingAndGlyphs">cloud_synchronized_tier_c</text>
<text class="d" x="274.2" y="508.3" textLength="8" lengthAdjust="spacingAndGlyphs">Size</text>
<text class="d" x="274.2" y="511.6" textLength="8" lengthAdjust="spacingAndGlyphs">Free</text>
<text class="d" x="274.2" y="514.9" textLength="8" lengthAdjust="spacingAndGlyphs">Used</text>

<rect class="or" x="272.7" y="545" width="39.6" height="16"/>
<text class="t" x="292.5" y="548" textLength="22" lengthAdjust="spacingAndGlyphs">cluster_tier_main</text>
<text class="d" x="274.2" y="551.2" textLength="8" lengthAdjust="spacingAndGlyphs">Size</text>
<text class="d" x="274.2" y="554.4" textLength="34" lengthAdjust="spacingAndGlyphs">Used: 4.8 GB of 10.5 GB total</text>
<text class="d" x="274.2" y="557.6" textLength="14" lengthAdjust="spacingAndGlyphs">Free: 2.1 GB</text>

<rect class="or" x="272.7" y="644" width="39.6" height="22"/>
<text class="t" x="292.5" y="647" textLength="24" lengthAdjust="spacingAndGlyphs">archive_tier</text>
<text class="d" x="274.2" y="650.3" textLength="34" lengthAdjust="spacingAndGlyphs">Size: 10.5 GB (Ext4) archive tier</text>
<text class="d" x="274.2" y="653.6" textLength="24" lengthAdjust="spacingAndGlyphs">Free: 2.1 GB left</text>
<text class="d" x="274.2" y="656.9" textLength="36" lengthAdjust="spacingAndGlyphs">Used: 4.8 GB of 10.5 GB total space</text>
<text class="d" x="274.2" y="660.2" textLength="14" lengthAdjust="spacingAndGlyphs">Label: cold</text>
<text class="d" x="274.2" y="663.5" textLength="34" lengthAdjust="spacingAndGlyphs">Mount: /srv/archive noatime</text>

<!-- YELLOW -->
<rect class="ye" x="327.3" y="126" width="39.4" height="20"/>
<text class="t" x="347" y="129" textLength="26" lengthAdjust="spacingAndGlyphs">primary_storage</text>
<text class="t" x="347" y="132.1" textLength="36" lengthAdjust="spacingAndGlyphs">system_root_and_data_volumes</text>
<text class="d" x="328.8" y="135.2" textLength="36" lengthAdjust="spacingAndGlyphs">Size: 10.5 GB (Ext4) primary volume</text>
<text class="d" x="328.8" y="138.3" textLength="12" lengthAdjust="spacingAndGlyphs">Free: 3.2</text>
<text class="d" x="328.8" y="141.4" textLength="10" lengthAdjust="spacingAndGlyphs">Used: 4</text>
<text class="d" x="328.8" y="144.5" textLength="34" lengthAdjust="spacingAndGlyphs">Mount: / options rw,noatime</text>

<rect class="ye" x="327.3" y="372" width="27.7" height="13"/>
<text class="t" x="341.2" y="375" textLength="24" lengthAdjust="spacingAndGlyphs">application_tier</text>
<text class="d" x="328.8" y="378.1" textLength="8" lengthAdjust="spacingAndGlyphs">Size</text>
<text class="d" x="328.8" y="381.2" textLength="8" lengthAdjust="spacingAndGlyphs">Free</text>
<text class="d" x="328.8" y="384.3" textLength="8" lengthAdjust="spacingAndGlyphs">Used</text>

<rect class="ye" x="327.3" y="484" width="26.7" height="14"/>
<text class="t" x="340.7" y="487" textLength="24" lengthAdjust="spacingAndGlyphs">storage_objects</text>
<text class="d" x="328.8" y="490.3" textLength="8" lengthAdjust="spacingAndGlyphs">Size</text>
<text class="d" x="328.8" y="493.6" textLength="8" lengthAdjust="spacingAndGlyphs">Free</text>
<text class="d" x="328.8" y="496.9" textLength="8" lengthAdjust="spacingAndGlyphs">Used</text>

<rect class="ye" x="327.3" y="597" width="34" height="13"/>
<text class="t" x="344.3" y="600" textLength="30" lengthAdjust="spacingAndGlyphs">backup_archive_group</text>
<text class="d" x="328.8" y="603.2" textLength="8" lengthAdjust="spacingAndGlyphs">Size</text>
<text class="d" x="328.8" y="606.3" textLength="8" lengthAdjust="spacingAndGlyphs">Free</text>
<text class="d" x="328.8" y="609.4" textLength="8" lengthAdjust="spacingAndGlyphs">Used</text>

<!-- PURPLE -->
<rect class="pu" x="380.5" y="252.5" width="24.5" height="13"/>
<text class="t" x="392.8" y="255.5" textLength="20" lengthAdjust="spacingAndGlyphs">storage_root</text>
<text class="d" x="382" y="258.6" textLength="8" lengthAdjust="spacingAndGlyphs">Size</text>
<text class="d" x="382" y="261.7" textLength="8" lengthAdjust="spacingAndGlyphs">Free</text>
<text class="d" x="382" y="264.8" textLength="8" lengthAdjust="spacingAndGlyphs">Used</text>

<rect class="pu" x="380.5" y="538.3" width="42" height="16.7"/>
<text class="t" x="401.5" y="541.3" textLength="26" lengthAdjust="spacingAndGlyphs">storage_secondary</text>
<text class="d" x="382" y="544.6" textLength="8" lengthAdjust="spacingAndGlyphs">Size</text>
<text class="d" x="382" y="547.9" textLength="8" lengthAdjust="spacingAndGlyphs">Free</text>
<text class="d" x="382" y="551.2" textLength="38" lengthAdjust="spacingAndGlyphs">Used: 4.8 GB of 10.5 GB total space used</text>
<text class="d" x="382" y="554.2" textLength="14" lengthAdjust="spacingAndGlyphs">Label: data</text>

<!-- RIGHT GREY-GREEN -->
<rect class="rg" x="435.7" y="282" width="36.6" height="19.5"/>
<text class="t" x="454" y="285" textLength="30" lengthAdjust="spacingAndGlyphs">storage_monitor_agent</text>
<text class="d" x="437.2" y="288.2" textLength="8" lengthAdjust="spacingAndGlyphs">Size</text>
<text class="d" x="437.2" y="291.4" textLength="8" lengthAdjust="spacingAndGlyphs">Free</text>
<text class="d" x="437.2" y="294.6" textLength="33" lengthAdjust="spacingAndGlyphs">Status: healthy (monitoring)</text>
<text class="d" x="437.2" y="297.8" textLength="20" lengthAdjust="spacingAndGlyphs">Interval: 60s</text>

<rect class="rg" x="435.7" y="307.7" width="31.3" height="16.6"/>
<text class="t" x="451.3" y="310.7" textLength="28" lengthAdjust="spacingAndGlyphs">health_check_service</text>
<text class="d" x="437.2" y="314" textLength="8" lengthAdjust="spacingAndGlyphs">Size</text>
<text class="d" x="437.2" y="317.3" textLength="8" lengthAdjust="spacingAndGlyphs">Free</text>
<text class="d" x="437.2" y="320.6" textLength="28" lengthAdjust="spacingAndGlyphs">Status: running (active)</text>

<rect class="rg" x="435.7" y="330" width="40.8" height="17.5"/>
<text class="t" x="456.1" y="333" textLength="36" lengthAdjust="spacingAndGlyphs">quota_manager_policy_engine</text>
<text class="d" x="437.2" y="336.3" textLength="8" lengthAdjust="spacingAndGlyphs">Size</text>
<text class="d" x="437.2" y="339.6" textLength="8" lengthAdjust="spacingAndGlyphs">Free</text>
<text class="d" x="437.2" y="342.9" textLength="36" lengthAdjust="spacingAndGlyphs">Status: enforcing (limits applied)</text>
<text class="d" x="437.2" y="346" textLength="8" lengthAdjust="spacingAndGlyphs">Used</text>

<rect class="rg" x="435.7" y="353.3" width="34.3" height="13.7"/>
<text class="t" x="452.8" y="356.3" textLength="10" lengthAdjust="spacingAndGlyphs">alerts</text>
<text class="d" x="437.2" y="359.6" textLength="8" lengthAdjust="spacingAndGlyphs">Size</text>
<text class="d" x="437.2" y="362.9" textLength="8" lengthAdjust="spacingAndGlyphs">Free</text>
<text class="d" x="437.2" y="366.1" textLength="30" lengthAdjust="spacingAndGlyphs">Status: enabled (email)</text>

<rect class="rg" x="435.7" y="373.3" width="40.8" height="10.7"/>
<text class="t" x="456.1" y="376.3" textLength="4" lengthAdjust="spacingAndGlyphs">ui</text>
<text class="d" x="437.2" y="379.5" textLength="8" lengthAdjust="spacingAndGlyphs">Size</text>
<text class="d" x="437.2" y="382.6" textLength="36" lengthAdjust="spacingAndGlyphs">Status: available (dashboard web)</text>

<rect class="wh" x="435.7" y="391.3" width="40.8" height="21.7"/>
<text class="t" x="456.1" y="394.3" textLength="22" lengthAdjust="spacingAndGlyphs">policy_engine</text>
<text class="d" x="437.2" y="397.6" textLength="37" lengthAdjust="spacingAndGlyphs">Rule: 10 GB (Ext4) threshold on all</text>
<text class="d" x="437.2" y="400.9" textLength="30" lengthAdjust="spacingAndGlyphs">Action: notify the admin</text>
<text class="d" x="437.2" y="404.2" textLength="37" lengthAdjust="spacingAndGlyphs">Rule: 4.8 GB usage for the primary</text>
<text class="d" x="437.2" y="407.5" textLength="30" lengthAdjust="spacingAndGlyphs">Scope: storage volumes</text>
<text class="d" x="437.2" y="410.8" textLength="34" lengthAdjust="spacingAndGlyphs">Schedule: every hour and daily</text>

<!-- TAN -->
<rect class="tn" x="490.3" y="343.3" width="39.7" height="19"/>
<text class="t" x="510.2" y="346.3" textLength="34" lengthAdjust="spacingAndGlyphs">retention_policy_rules</text>
<text class="d" x="491.8" y="349.6" textLength="36" lengthAdjust="spacingAndGlyphs">Rule: keep 10 daily snapshots for all</text>
<text class="d" x="491.8" y="352.9" textLength="28" lengthAdjust="spacingAndGlyphs">Action: prune old snapshots</text>
<text class="d" x="491.8" y="356.2" textLength="36" lengthAdjust="spacingAndGlyphs">Rule: keep 4 weekly snapshots on disk</text>
<text class="d" x="491.8" y="359.5" textLength="36" lengthAdjust="spacingAndGlyphs">Scope: primary and secondary volumes</text>

<rect class="tn" x="490.3" y="381.7" width="43" height="19"/>
<text class="t" x="511.8" y="384.7" textLength="34" lengthAdjust="spacingAndGlyphs">replication_schedule_rule</text>
<text class="d" x="491.8" y="388" textLength="38" lengthAdjust="spacingAndGlyphs">Rule: replicate every 15 minutes to remote</text>
<text class="d" x="491.8" y="391.3" textLength="30" lengthAdjust="spacingAndGlyphs">Action: sync to the target</text>
<text class="d" x="491.8" y="394.6" textLength="38" lengthAdjust="spacingAndGlyphs">Rule: full sync weekly on sunday night</text>
<text class="d" x="491.8" y="397.9" textLength="36" lengthAdjust="spacingAndGlyphs">Scope: cluster and object storage</text>

<rect class="tn" x="490.3" y="419.3" width="43" height="19.7"/>
<text class="t" x="511.8" y="422.3" textLength="36" lengthAdjust="spacingAndGlyphs">capacity_threshold_alerting</text>
<text class="d" x="491.8" y="425.6" textLength="38" lengthAdjust="spacingAndGlyphs">Rule: warn at 80% usage on all volumes</text>
<text class="d" x="491.8" y="428.9" textLength="30" lengthAdjust="spacingAndGlyphs">Action: notify the admin</text>
<text class="d" x="491.8" y="432.2" textLength="38" lengthAdjust="spacingAndGlyphs">Rule: critical at 95% usage on volumes</text>
<text class="d" x="491.8" y="435.5" textLength="34" lengthAdjust="spacingAndGlyphs">Scope: all monitored storage</text>

<rect class="tn" x="490.3" y="445" width="39" height="11.7"/>
<text class="t" x="509.8" y="448" textLength="34" lengthAdjust="spacingAndGlyphs">encryption_key_rotation</text>
<text class="t" x="509.8" y="451.3" textLength="14" lengthAdjust="spacingAndGlyphs">policy</text>
<text class="d" x="491.8" y="454.6" textLength="34" lengthAdjust="spacingAndGlyphs">Rule: rotate keys every 90 days</text>

<!-- LIGHT YELLOW -->
<rect class="ly" x="547" y="338.3" width="41.3" height="10.7"/>
<text class="t" x="567.6" y="341.3" textLength="34" lengthAdjust="spacingAndGlyphs">daily_snapshot_prune_job</text>
<text class="d" x="548.5" y="344.6" textLength="30" lengthAdjust="spacingAndGlyphs">Run: 02:00 daily on all</text>
<text class="d" x="548.5" y="347.7" textLength="32" lengthAdjust="spacingAndGlyphs">Target: primary storage pool</text>

<rect class="ly" x="547" y="355.7" width="41.3" height="11"/>
<text class="t" x="567.6" y="358.7" textLength="34" lengthAdjust="spacingAndGlyphs">weekly_snapshot_prune_job</text>
<text class="d" x="548.5" y="362" textLength="30" lengthAdjust="spacingAndGlyphs">Run: 03:00 sunday on all</text>
<text class="d" x="548.5" y="365.1" textLength="32" lengthAdjust="spacingAndGlyphs">Target: secondary storage pool</text>

<rect class="ly" x="547" y="376" width="41.3" height="10.7"/>
<text class="t" x="567.6" y="379" textLength="34" lengthAdjust="spacingAndGlyphs">incremental_replication_job</text>
<text class="d" x="548.5" y="382.3" textLength="30" lengthAdjust="spacingAndGlyphs">Run: every 15 minutes</text>
<text class="d" x="548.5" y="385.4" textLength="32" lengthAdjust="spacingAndGlyphs">Target: remote cluster site</text>

<rect class="ly" x="547" y="393.7" width="41.3" height="10.6"/>
<text class="t" x="567.6" y="396.7" textLength="34" lengthAdjust="spacingAndGlyphs">full_replication_weekly_job</text>
<text class="d" x="548.5" y="400" textLength="30" lengthAdjust="spacingAndGlyphs">Run: sunday 23:00 weekly</text>
<text class="d" x="548.5" y="403.1" textLength="32" lengthAdjust="spacingAndGlyphs">Target: remote cluster site</text>

<rect class="ly" x="547" y="414.3" width="43" height="10.7"/>
<text class="t" x="568.5" y="417.3" textLength="36" lengthAdjust="spacingAndGlyphs">capacity_warning_notification</text>
<text class="d" x="548.5" y="420.6" textLength="38" lengthAdjust="spacingAndGlyphs">Send: email to storage administrators</text>
<text class="d" x="548.5" y="423.7" textLength="26" lengthAdjust="spacingAndGlyphs">Level: warning 80%</text>

<rect class="ly" x="547" y="431.7" width="43" height="11.6"/>
<text class="t" x="568.5" y="434.7" textLength="36" lengthAdjust="spacingAndGlyphs">capacity_critical_notification</text>
<text class="t" x="568.5" y="438" textLength="16" lengthAdjust="spacingAndGlyphs">pager</text>
<text class="d" x="548.5" y="441.3" textLength="38" lengthAdjust="spacingAndGlyphs">Send: page the on-call administrators</text>
</svg>
</body></html>
